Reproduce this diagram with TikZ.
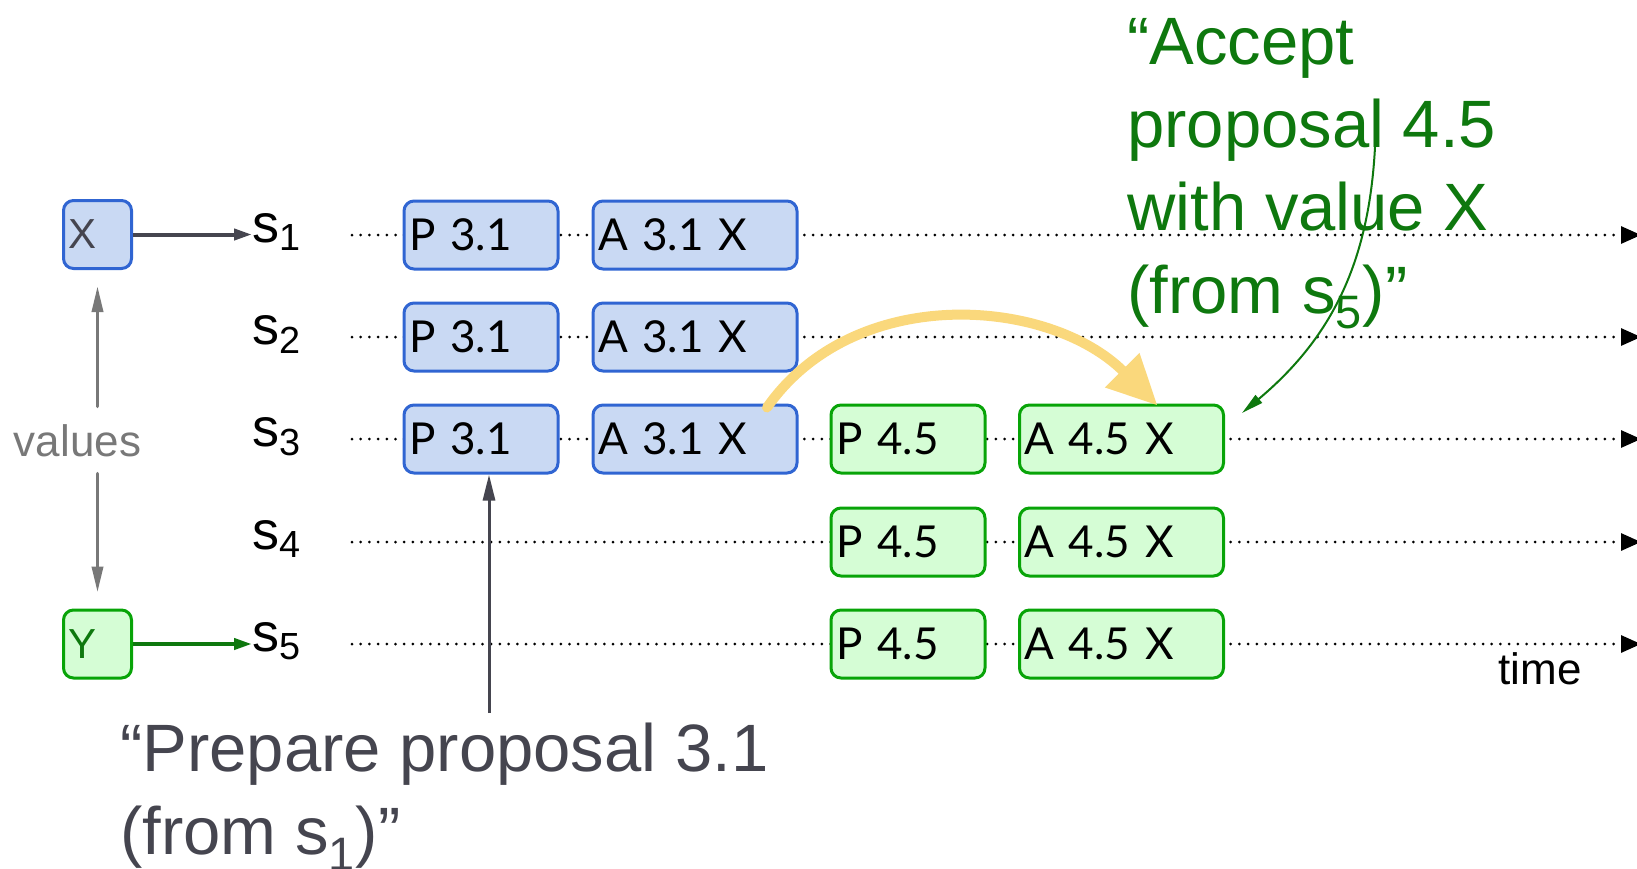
\documentclass[tikz,border=0pt]{standalone}
\usepackage{fontspec}
\setmainfont{Liberation Sans}
\newfontfamily\boxfont{Lato}
\usetikzlibrary{arrows.meta}

\definecolor{oldline}{HTML}{3065D2}
\definecolor{oldfill}{HTML}{C9D9F3}
\definecolor{newline}{HTML}{08A408}
\definecolor{newfill}{HTML}{D5FDD5}
\definecolor{okgreen}{HTML}{0E780E}
\definecolor{notegray}{HTML}{45454F}
\definecolor{valgray}{HTML}{787878}
\definecolor{carry}{HTML}{FAD87C}

\begin{document}
\begin{tikzpicture}[x=0.5pt,y=-0.5pt]
        \tikzstyle{oldbox}=[draw=oldline,fill=oldfill,rounded corners=5pt,line width=1.5pt,minimum height=34pt,inner xsep=2.5pt,inner ysep=0pt,align=left,font=\boxfont\fontsize{22}{24}\selectfont]
        \tikzstyle{newbox}=[oldbox,draw=newline,fill=newfill]
        \tikzstyle{short}=[text width=72pt]
        \tikzstyle{long}=[text width=97pt]
        \tikzstyle{valbox}=[oldbox,text width=29pt,font=\fontsize{21}{24}\selectfont]
        \tikzstyle{server}=[inner sep=0pt,anchor=base west,font=\fontsize{27}{30}\selectfont]
        \tikzstyle{timeline}=[line width=1.5pt,dash pattern=on 0pt off 4.35pt,line cap=round,-{Triangle[length=10pt,width=8.5pt]}]
        \tikzstyle{note}=[inner sep=0pt,anchor=north west,align=left,font=\fontsize{33.5}{41.5}\selectfont]
        \tikzstyle{small}=[inner sep=0pt,font=\fontsize{22}{24}\selectfont]

        \useasboundingbox (0,0) rectangle (1637,868);

        % time lines, drawn first so the boxes sit on top
        \coordinate (t1) at (352,235);  \coordinate (e1) at (1641,235);
        \coordinate (t2) at (352,337);  \coordinate (e2) at (1641,337);
        \coordinate (t3) at (352,439);  \coordinate (e3) at (1641,439);
        \coordinate (t4) at (352,542);  \coordinate (e4) at (1641,542);
        \coordinate (t5) at (352,644);  \coordinate (e5) at (1641,644);
        \draw [timeline] (t1) -- (e1);
        \draw [timeline] (t2) -- (e2);
        \draw [timeline] (t3) -- (e3);
        \draw [timeline] (t4) -- (e4);
        \draw [timeline] (t5) -- (e5);

        \draw node at (97.5,234.5) [valbox] (X) {\color{notegray}X};
        \draw node at (97.5,644) [valbox,draw=newline,fill=newfill] (Y) {\color{okgreen}Y};
        \draw node at (77.5,441) [small,text=valgray] (vals) {values};

        \draw node at (252,242) [server] (s1) {s\textsubscript{1}};
        \draw node at (252,344) [server] (s2) {s\textsubscript{2}};
        \draw node at (252,446) [server] (s3) {s\textsubscript{3}};
        \draw node at (252,549) [server] (s4) {s\textsubscript{4}};
        \draw node at (252,651) [server] (s5) {s\textsubscript{5}};

        \draw node at (481,235) [oldbox,short] (p1) {P 3.1};
        \draw node at (481,337) [oldbox,short] (p2) {P 3.1};
        \draw node at (481,439) [oldbox,short] (p3) {P 3.1};
        \draw node at (695,235) [oldbox,long] (a1) {A 3.1 X};
        \draw node at (695,337) [oldbox,long] (a2) {A 3.1 X};
        \draw node at (695,439) [oldbox,long] (a3) {A 3.1 X};

        \draw node at (908,439) [newbox,short] (q3) {P 4.5};
        \draw node at (908,542) [newbox,short] (q4) {P 4.5};
        \draw node at (908,644) [newbox,short] (q5) {P 4.5};
        \draw node at (1121.5,439) [newbox,long] (b3) {A 4.5 X};
        \draw node at (1121.5,542) [newbox,long] (b4) {A 4.5 X};
        \draw node at (1121.5,644) [newbox,long] (b5) {A 4.5 X};

        \draw node at (1540,684) [small,anchor=base] (time) {time};

        \draw node at (1127,18) [note,text=okgreen] (acc) {“Accept\\proposal 4.5\\with value X\\(from s\textsubscript{5})”};
        \draw node at (120,723) [note,text=notegray] (prep) {“Prepare proposal 3.1\\(from s\textsubscript{1})”};

        % value arrows
        \draw [notegray,line width=2pt,-{Triangle[length=9pt,width=5.5pt]}] (X.east) -- (X.east -| s1.west);
        \draw [okgreen,line width=2pt,-{Triangle[length=9pt,width=5.5pt]}] (Y.east) -- (Y.east -| s5.west);
        \draw [valgray,line width=1.8pt,line cap=round,shorten <=9pt,shorten >=8pt,-{Triangle[length=13pt,width=5.5pt]}] (X.south |- vals.north) -- (X.south);
        \draw [valgray,line width=1.8pt,line cap=round,shorten <=8pt,shorten >=8pt,-{Triangle[length=13pt,width=5.5pt]}] (Y.north |- vals.south) -- (Y.north);

        % prepare arrow
        \coordinate (ptip) at ([xshift=4pt]p3.south);
        \draw [notegray,line width=1.5pt,shorten <=5pt,-{Triangle[length=13pt,width=6pt]}] (prep.north -| ptip) -- (ptip);

        % accepted value carried over
        \draw [carry,line width=5pt,line cap=round,-{Triangle[length=25pt,width=23pt]}] ([xshift=36pt,yshift=-2pt]a3.north) to[out=55,in=135] ([xshift=18pt,yshift=-1pt]b3.north);

        % accept arrow
        \coordinate (accfrom) at (1375,147);
        \coordinate (accto) at (1242,413);
        \draw [okgreen,line width=1pt,-{Triangle[length=11pt,width=5pt]}] (accfrom) to[out=-93,in=40] (accto);
\end{tikzpicture}
\end{document}
